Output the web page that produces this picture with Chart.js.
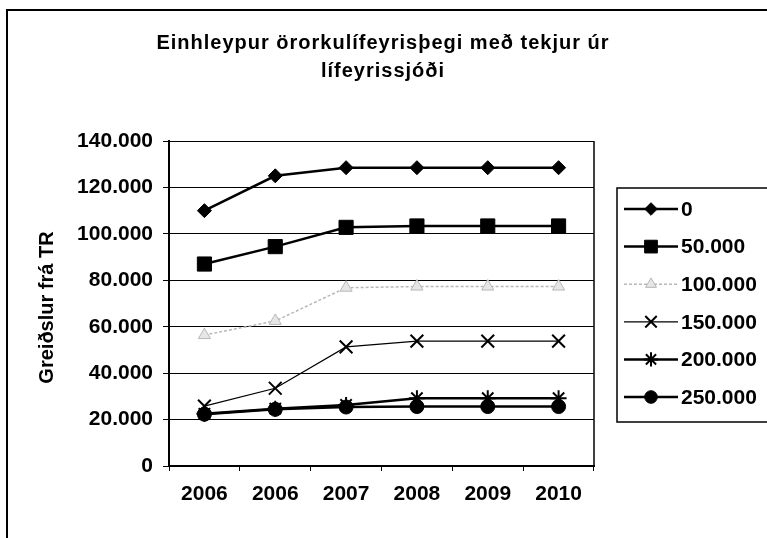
<!DOCTYPE html>
<html lang="is">
<head>
    <meta charset="UTF-8">
    <title>Einhleypur örorkulífeyrisþegi</title>
    <script src="https://cdn.jsdelivr.net/npm/chart.js@4.4.0/dist/chart.umd.min.js"></script>
    <style>
        html, body { margin: 0; padding: 0; background: #fff; }
        #wrap { width: 767px; height: 538px; }
    </style>
</head>
<body>
    <div id="wrap"><canvas id="chart" width="767" height="538"></canvas></div>

    <script>
        // data
        var years = ['2006', '2006', '2007', '2008', '2009', '2010'];
        var seriesNames = ['0', '50.000', '100.000', '150.000', '200.000', '250.000'];
        var tekjur0 = [110000, 125000, 128500, 128500, 128500, 128500];
        var tekjur50 = [87000, 94500, 102800, 103400, 103400, 103400];
        var tekjur100 = [56400, 62500, 76800, 77300, 77300, 77300];
        var tekjur150 = [25800, 33500, 51300, 53800, 53800, 53800];
        var tekjur200 = [22500, 24700, 26300, 29200, 29200, 29200];
        var tekjur250 = [22300, 24400, 25400, 25600, 25600, 25600];
        var yTicks = [0, 20000, 40000, 60000, 80000, 100000, 120000, 140000];

        var titleLines = ['Einhleypur örorkulífeyrisþegi með tekjur úr', 'lífeyrissjóði'];
        var yTitle = 'Greiðslur frá TR';

        var FONT = '"Liberation Sans", Arial, sans-serif';

        function fmt(v) {
            return String(v).replace(/\B(?=(\d{3})+(?!\d))/g, '.');
        }

        var styles = [
            { data: tekjur0, color: '#000', width: 2.5, point: 'rectRot', r: 7, fill: '#000' },
            { data: tekjur50, color: '#000', width: 2.5, point: 'rect', r: 10, fill: '#000' },
            { data: tekjur100, color: '#b8b8b8', width: 1.5, point: 'triangle', r: 7, fill: '#e6e6e6', dash: [3, 2] },
            { data: tekjur150, color: '#000', width: 1.2, point: 'crossRot', r: 9, fill: '#000' },
            { data: tekjur200, color: '#000', width: 2.5, point: 'star', r: 8, fill: '#000' },
            { data: tekjur250, color: '#000', width: 2.5, point: 'circle', r: 7, fill: '#000' }
        ];

        var datasets = styles.map(function (s, i) {
            return {
                label: seriesNames[i],
                data: s.data,
                borderColor: s.color,
                backgroundColor: s.fill,
                borderWidth: s.width,
                borderDash: s.dash || [],
                pointStyle: s.point,
                pointRadius: s.r,
                pointBorderColor: s.color,
                pointBackgroundColor: s.fill,
                pointBorderWidth: s.point == 'crossRot' || s.point == 'star' ? 2 : 1,
                tension: 0
            };
        });

        // frame, title, y title and the legend box
        var decor = {
            id: 'decor',
            afterDraw: function (chart) {
                var ctx = chart.ctx;
                var a = chart.chartArea;
                ctx.save();

                // outer frame
                ctx.strokeStyle = '#000';
                ctx.lineWidth = 2;
                ctx.beginPath();
                ctx.moveTo(7, 540);
                ctx.lineTo(7, 10);
                ctx.lineTo(770, 10);
                ctx.stroke();

                // right edge of plot area
                ctx.lineWidth = 1.5;
                ctx.beginPath();
                ctx.moveTo(a.right, a.top);
                ctx.lineTo(a.right, a.bottom);
                ctx.stroke();

                // title
                ctx.fillStyle = '#000';
                ctx.font = 'bold 20px ' + FONT;
                ctx.letterSpacing = '1px';
                ctx.textAlign = 'center';
                ctx.textBaseline = 'middle';
                ctx.fillText(titleLines[0], 383, 43);
                ctx.fillText(titleLines[1], 383, 71);
                ctx.letterSpacing = '0px';

                // y axis title
                ctx.save();
                ctx.translate(47, (a.top + a.bottom) / 2 + 4);
                ctx.rotate(-Math.PI / 2);
                ctx.font = 'bold 20px ' + FONT;
                ctx.fillText(yTitle, 0, 0);
                ctx.restore();

                // legend
                ctx.lineWidth = 1.5;
                ctx.strokeStyle = '#000';
                ctx.strokeRect(617, 188, 170, 234);
                ctx.font = 'bold 21px ' + FONT;
                ctx.textAlign = 'left';
                chart.data.datasets.forEach(function (ds, i) {
                    var y = 209 + i * 37.6;
                    ctx.save();
                    ctx.strokeStyle = ds.borderColor;
                    ctx.lineWidth = ds.borderWidth;
                    ctx.setLineDash(ds.borderDash);
                    ctx.beginPath();
                    ctx.moveTo(624, y);
                    ctx.lineTo(678, y);
                    ctx.stroke();
                    ctx.setLineDash([]);
                    ctx.fillStyle = ds.pointBackgroundColor;
                    ctx.strokeStyle = ds.pointBorderColor;
                    ctx.lineWidth = ds.pointBorderWidth;
                    Chart.helpers.drawPoint(ctx, { pointStyle: ds.pointStyle, radius: ds.pointRadius * 0.9, rotation: 0, borderWidth: ds.pointBorderWidth }, 651, y);
                    ctx.restore();
                    ctx.fillStyle = '#000';
                    ctx.fillText(ds.label, 681, y + 1);
                });

                ctx.restore();
            }
        };

        var ctx = document.getElementById('chart').getContext('2d');
        new Chart(ctx, {
            type: 'line',
            data: { labels: years, datasets: datasets },
            plugins: [decor],
            options: {
                responsive: false,
                animation: false,
                devicePixelRatio: 1,
                layout: { padding: { left: 0, right: 173, top: 141, bottom: 0 } },
                plugins: {
                    legend: { display: false },
                    title: { display: false },
                    tooltip: { enabled: false }
                },
                scales: {
                    x: {
                        offset: true,
                        afterFit: function (scale) { scale.height = 72; },
                        grid: {
                            offset: true,
                            drawOnChartArea: false,
                            color: '#000',
                            tickLength: 5,
                            tickColor: '#000'
                        },
                        border: { color: '#000', width: 2 },
                        ticks: {
                            color: '#000',
                            font: { family: FONT, size: 21, weight: 'bold' },
                            padding: 11,
                            maxRotation: 0,
                            autoSkip: false
                        }
                    },
                    y: {
                        min: 0,
                        max: 140000,
                        afterFit: function (scale) { scale.width = 169; },
                        afterBuildTicks: function (scale) {
                            scale.ticks = yTicks.map(function (v) { return { value: v }; });
                        },
                        grid: {
                            color: '#000',
                            lineWidth: 1,
                            tickLength: 6,
                            tickColor: '#000'
                        },
                        border: { color: '#000', width: 2 },
                        ticks: {
                            color: '#000',
                            font: { family: FONT, size: 21, weight: 'bold' },
                            padding: 10,
                            callback: function (v) { return fmt(v); }
                        }
                    }
                }
            }
        });
    </script>
</body>
</html>
